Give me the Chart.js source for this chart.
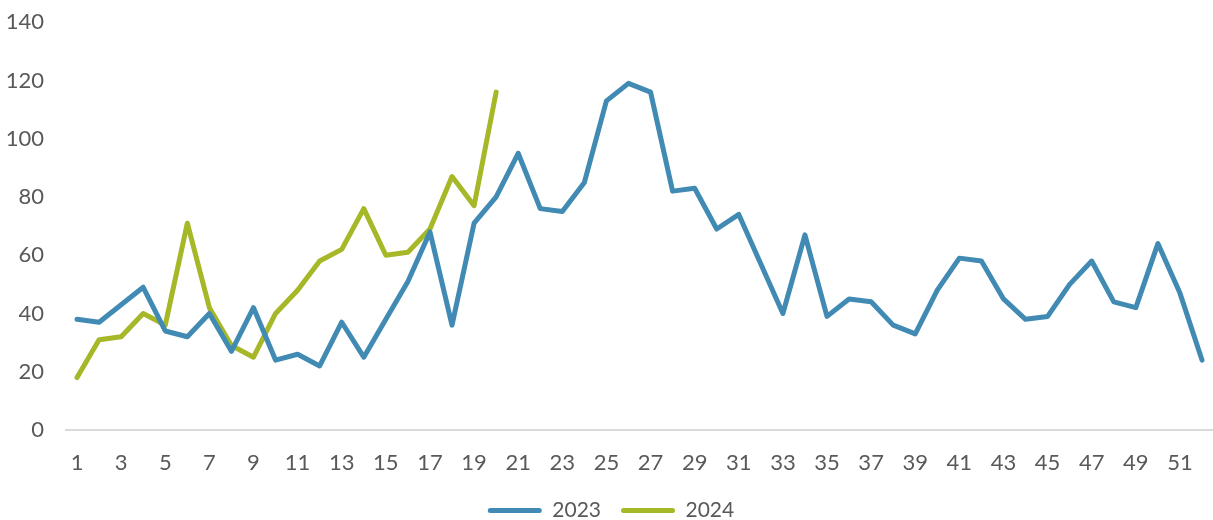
<!DOCTYPE html>
<html>
<head>
<meta charset="utf-8">
<script src="https://cdn.jsdelivr.net/npm/chart.js@4"></script>
<style>
  html, body { margin: 0; padding: 0; background: #fff; overflow: hidden; width: 1213px; height: 520px; }
  #wrap { position: absolute; left: 0; top: -13px; width: 1222px; height: 544px; }
</style>
</head>
<body>
<div id="wrap"><canvas id="weekChart"></canvas></div>
<script>
// weeks 1..52
const weeks = [];
for (let i = 1; i <= 52; i++) weeks.push(String(i));

const y2023 = [38, 37, 43, 49, 34, 32, 40, 27, 42, 24,
               26, 22, 37, 25, 38, 51, 68, 36, 71, 80,
               95, 76, 75, 85, 113, 119, 116, 82, 83, 69,
               74, 57, 40, 67, 39, 45, 44, 36, 33, 48,
               59, 58, 45, 38, 39, 50, 58, 44, 42, 64,
               47, 24];

const y2024 = [18, 31, 32, 40, 36, 71, 42, 29, 25, 40,
               48, 58, 62, 76, 60, 61, 69, 87, 77, 116];

const yTicks = [0, 20, 40, 60, 80, 100, 120, 140];

const blue = '#418ab3';
const green = '#a6b727';
const textGray = '#595959';

Chart.defaults.font.family = 'Lato, "Open Sans", sans-serif';
Chart.defaults.font.size = 22;
Chart.defaults.color = textGray;

const ctx = document.getElementById('weekChart').getContext('2d');
const chart = new Chart(ctx, {
    type: 'line',
    data: {
        labels: weeks,
        datasets: [{
            label: '2023',
            data: y2023,
            borderColor: blue,
            backgroundColor: blue,
            borderWidth: 5,
            pointRadius: 0,
            tension: 0,
            borderJoinStyle: 'round',
            borderCapStyle: 'round'
        }, {
            label: '2024',
            data: y2024,
            borderColor: green,
            backgroundColor: green,
            borderWidth: 5,
            pointRadius: 0,
            tension: 0,
            borderJoinStyle: 'round',
            borderCapStyle: 'round'
        }]
    },
    options: {
        responsive: true,
        maintainAspectRatio: false,
        animation: false,
        layout: { padding: 0 },
        plugins: {
            tooltip: { enabled: false },
            legend: {
                position: 'bottom',
                labels: {
                    font: { size: 21 },
                    boxWidth: 54,
                    boxHeight: 5,
                    useBorderRadius: true,
                    borderRadius: 2.5,
                    padding: 20,
                    generateLabels(c) {
                        const items = Chart.defaults.plugins.legend.labels.generateLabels(c);
                        items.forEach(it => { it.lineWidth = 0; });
                        return items;
                    }
                }
            }
        },
        scales: {
            x: {
                offset: true,
                grid: { display: false, drawTicks: false },
                border: { display: true, color: '#d9d9d9', width: 2 },
                ticks: {
                    autoSkip: false,
                    maxRotation: 0,
                    padding: 20,
                    callback(val, idx) { return idx % 2 === 0 ? weeks[idx] : ''; }
                },
                afterFit(axis) { axis.height = 50; }
            },
            y: {
                min: 0,
                max: 140,
                afterBuildTicks(axis) { axis.ticks = yTicks.map(v => ({ value: v })); },
                grid: { display: false, drawTicks: false },
                border: { display: false },
                ticks: { padding: 22 },
                afterFit(axis) { axis.width = 66; }
            }
        }
    }
});
</script>
</body>
</html>
